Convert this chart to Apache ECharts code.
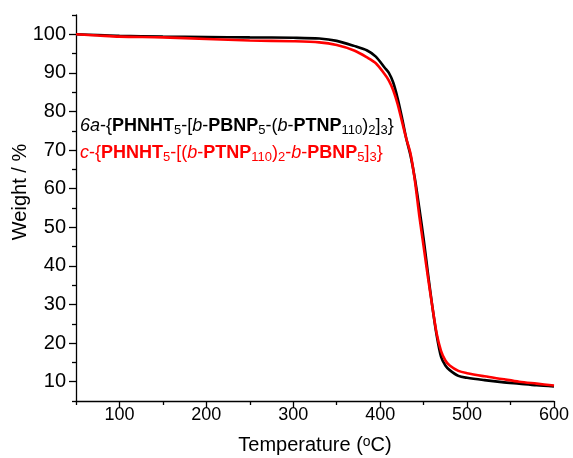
<!DOCTYPE html>
<html>
<head>
<meta charset="utf-8">
<script src="https://cdn.jsdelivr.net/npm/echarts@6/dist/echarts.min.js"></script>
<style>html,body{margin:0;padding:0;background:#fff;}#c{width:573px;height:458px;}</style>
</head>
<body>
<div id="c"></div>
<script>
// Temperature (°C)
const temps = [50, 75, 100, 150, 200, 250, 300, 330, 350, 370, 385, 395, 405, 410, 415, 420, 425, 430, 435, 440, 445, 450, 455, 460, 465, 470, 475, 480, 490, 500, 520, 540, 560, 580, 600];
// 6a-{PHNHT5-[b-PBNP5-(b-PTNP110)2]3}  (black)
const weight6a = [100, 99.8, 99.6, 99.4, 99.3, 99.2, 99.1, 98.9, 98.3, 97.0, 95.8, 94.2, 91.4, 90.0, 87.5, 83.5, 78.5, 73.0, 68.5, 62.5, 55.0, 47.0, 38.0, 29.5, 22.0, 16.5, 14.2, 13.0, 11.5, 11.0, 10.4, 9.9, 9.5, 9.1, 8.8];
// c-{PHNHT5-[(b-PTNP110)2-b-PBNP5]3}  (red)
const weightC = [100, 99.7, 99.4, 99.2, 98.8, 98.4, 98.2, 97.9, 97.2, 95.8, 94.0, 92.5, 89.7, 88.0, 85.5, 82.0, 77.5, 73.0, 69.0, 62.0, 53.0, 45.0, 37.0, 29.5, 22.5, 18.0, 15.5, 14.2, 12.8, 12.2, 11.4, 10.7, 10.0, 9.5, 9.0];
const xMajor = [100, 200, 300, 400, 500, 600];
const xMinor = [50, 150, 250, 350, 450, 550];
const yMajor = [10, 20, 30, 40, 50, 60, 70, 80, 90, 100];
const yMinor = [5, 15, 25, 35, 45, 55, 65, 75, 85, 95, 105];

const FONT = '"Liberation Sans", Arial, sans-serif';
const toPairs = (xs, ys) => xs.map((x, i) => [x, ys[i]]);

function richFor(color) {
  return {
    n: { color, fontSize: 18, fontFamily: FONT, lineHeight: 22 },
    i: { color, fontSize: 18, fontFamily: FONT, fontStyle: 'italic', lineHeight: 22 },
    b: { color, fontSize: 18, fontFamily: FONT, fontWeight: 'bold', lineHeight: 22 },
    s: { color, fontSize: 13, fontFamily: FONT, lineHeight: 13, verticalAlign: 'bottom' }
  };
}

const chart = echarts.init(document.getElementById('c'), null, { renderer: 'canvas' });
const axisLineStyle = { color: '#000', width: 1.3 };
chart.setOption({
  animation: false,
  backgroundColor: '#fff',
  title: [
    {
      left: 80, top: 115, padding: 0,
      text: '{i|6a}{n|-{}{b|PHNHT}{s|5}{n|-[}{i|b}{n|-}{b|PBNP}{s|5}{n|-(}{i|b}{n|-}{b|PTNP}{s|110}{n|)}{s|2}{n|]}{s|3}}',
      textStyle: { color: '#000', fontSize: 18, fontFamily: FONT, fontWeight: 'normal', lineHeight: 22, rich: richFor('#000') }
    },
    {
      left: 80, top: 142, padding: 0,
      text: '{i|c}{n|-{}{b|PHNHT}{s|5}{n|-[(}{i|b}{n|-}{b|PTNP}{s|110}{n|)}{s|2}{n|-}{i|b}{n|-}{b|PBNP}{s|5}{n|]}{s|3}}',
      textStyle: { color: '#ff0000', fontSize: 18, fontFamily: FONT, fontWeight: 'normal', lineHeight: 22, rich: richFor('#ff0000') }
    }
  ],
  grid: { left: 76, right: 19, top: 15, bottom: 57, containLabel: false, outerBoundsMode: 'none' },
  xAxis: [
    {
      type: 'value', min: 50, max: 600, interval: 50, position: 'bottom',
      splitLine: { show: false },
      axisLine: { lineStyle: axisLineStyle },
      axisTick: { length: 7, lineStyle: axisLineStyle, customValues: xMajor },
      axisLabel: { customValues: xMajor, color: '#000', fontSize: 18, fontFamily: FONT, margin: 5 },
      name: 'Temperature ({sup|o}C)', nameLocation: 'middle', nameGap: 34,
      nameTextStyle: { color: '#000', fontSize: 20, fontFamily: FONT,
        rich: { sup: { fontSize: 14, fontFamily: FONT, color: '#000', verticalAlign: 'top', lineHeight: 14 } } }
    },
    {
      type: 'value', min: 50, max: 600, interval: 50, position: 'bottom',
      splitLine: { show: false },
      axisLine: { show: false },
      axisTick: { length: 4, lineStyle: axisLineStyle, customValues: xMinor },
      axisLabel: { show: false }
    }
  ],
  yAxis: [
    {
      type: 'value', min: 5, max: 105, interval: 5, position: 'left',
      splitLine: { show: false },
      axisLine: { show: true, lineStyle: axisLineStyle },
      axisTick: { show: true, length: 7, lineStyle: axisLineStyle, customValues: yMajor },
      axisLabel: { customValues: yMajor, color: '#000', fontSize: 20, fontFamily: FONT, margin: 10 },
      name: 'Weight / %', nameLocation: 'middle', nameGap: 46, nameMoveOverlap: false,
      nameTextStyle: { color: '#000', fontSize: 20, fontFamily: FONT, padding: [0, 0, 0, 32] }
    },
    {
      type: 'value', min: 5, max: 105, interval: 5, position: 'left',
      splitLine: { show: false },
      axisLine: { show: false },
      axisTick: { show: true, length: 4, lineStyle: axisLineStyle, customValues: yMinor },
      axisLabel: { show: false }
    }
  ],
  series: [
    {
      name: '6a', type: 'line', xAxisIndex: 0, yAxisIndex: 0,
      data: toPairs(temps, weight6a), showSymbol: false, smooth: 0.3,
      lineStyle: { color: '#000', width: 2.6 }, z: 2
    },
    {
      name: 'c', type: 'line', xAxisIndex: 0, yAxisIndex: 0,
      data: toPairs(temps, weightC), showSymbol: false, smooth: 0.3,
      lineStyle: { color: '#ff0000', width: 2.6 }, z: 3
    }
  ]
});
</script>
</body>
</html>
